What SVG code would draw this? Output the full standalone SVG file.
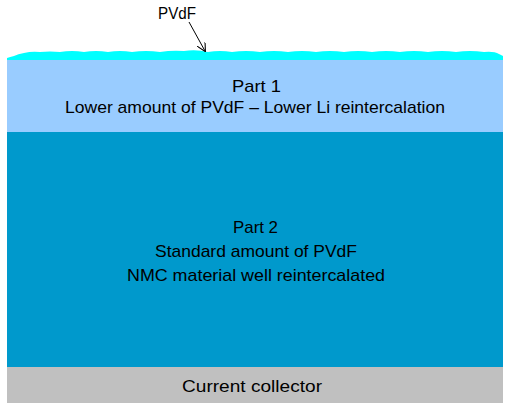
<svg xmlns="http://www.w3.org/2000/svg" width="511" height="409" viewBox="0 0 511 409">
<style>
.t{font-family:"Liberation Sans",Arial,sans-serif;font-size:17px;fill:#000;text-anchor:middle}
</style>
<defs>
<marker id="ah" viewBox="0 0 10 10" refX="9" refY="5" markerWidth="9" markerHeight="9" orient="auto" markerUnits="userSpaceOnUse">
<path d="M0,0 L10,5 L0,10" fill="none" stroke="#000" stroke-width="1.2"/>
</marker>
</defs>
<rect width="511" height="409" fill="#fff"/>
<g id="pvdf-layer">
<path d="M7,60 L7,58 Q10,57 14,56 Q18,54 24,53 Q32,51 40,52 Q50,51 60,52 Q72,50 84,52 Q96,50 108,52 Q120,50 132,52 Q146,50 160,52 Q172,50 184,51 Q196,49 208,52 Q220,50 232,52 Q246,50 260,52 Q274,50 288,52 Q302,50 316,52 Q330,50 344,52 Q358,50 372,52 Q386,50 400,52 Q414,50 428,52 Q442,50 456,52 Q470,50 484,52 Q494,51 499,54 L503,56 L503,60 Z" fill="#00ffff"/>
</g>
<g id="part1">
<rect x="7" y="60" width="496" height="72" fill="#99ccff"/>
<text class="t" x="256.5" y="92" textLength="49" lengthAdjust="spacingAndGlyphs">Part 1</text>
<text class="t" x="255" y="113" textLength="380" lengthAdjust="spacingAndGlyphs">Lower amount of PVdF – Lower Li reintercalation</text>
</g>
<g id="part2">
<rect x="7" y="132" width="496" height="235" fill="#0099cc"/>
<text class="t" x="255.5" y="233" textLength="45" lengthAdjust="spacingAndGlyphs">Part 2</text>
<text class="t" x="256" y="257" textLength="202" lengthAdjust="spacingAndGlyphs">Standard amount of PVdF</text>
<text class="t" x="256" y="281" textLength="258" lengthAdjust="spacingAndGlyphs">NMC material well reintercalated</text>
</g>
<g id="collector">
<rect x="7" y="367" width="496" height="36" fill="#c0c0c0"/>
<text class="t" x="252" y="392" textLength="140" lengthAdjust="spacingAndGlyphs">Current collector</text>
</g>
<g id="label-pvdf">
<text class="t" x="177" y="19" textLength="38" lengthAdjust="spacingAndGlyphs">PVdF</text>
</g>
<g id="connectors">
<line x1="189" y1="22" x2="205" y2="51" stroke="#000" stroke-width="1" marker-end="url(#ah)"/>
</g>
</svg>
